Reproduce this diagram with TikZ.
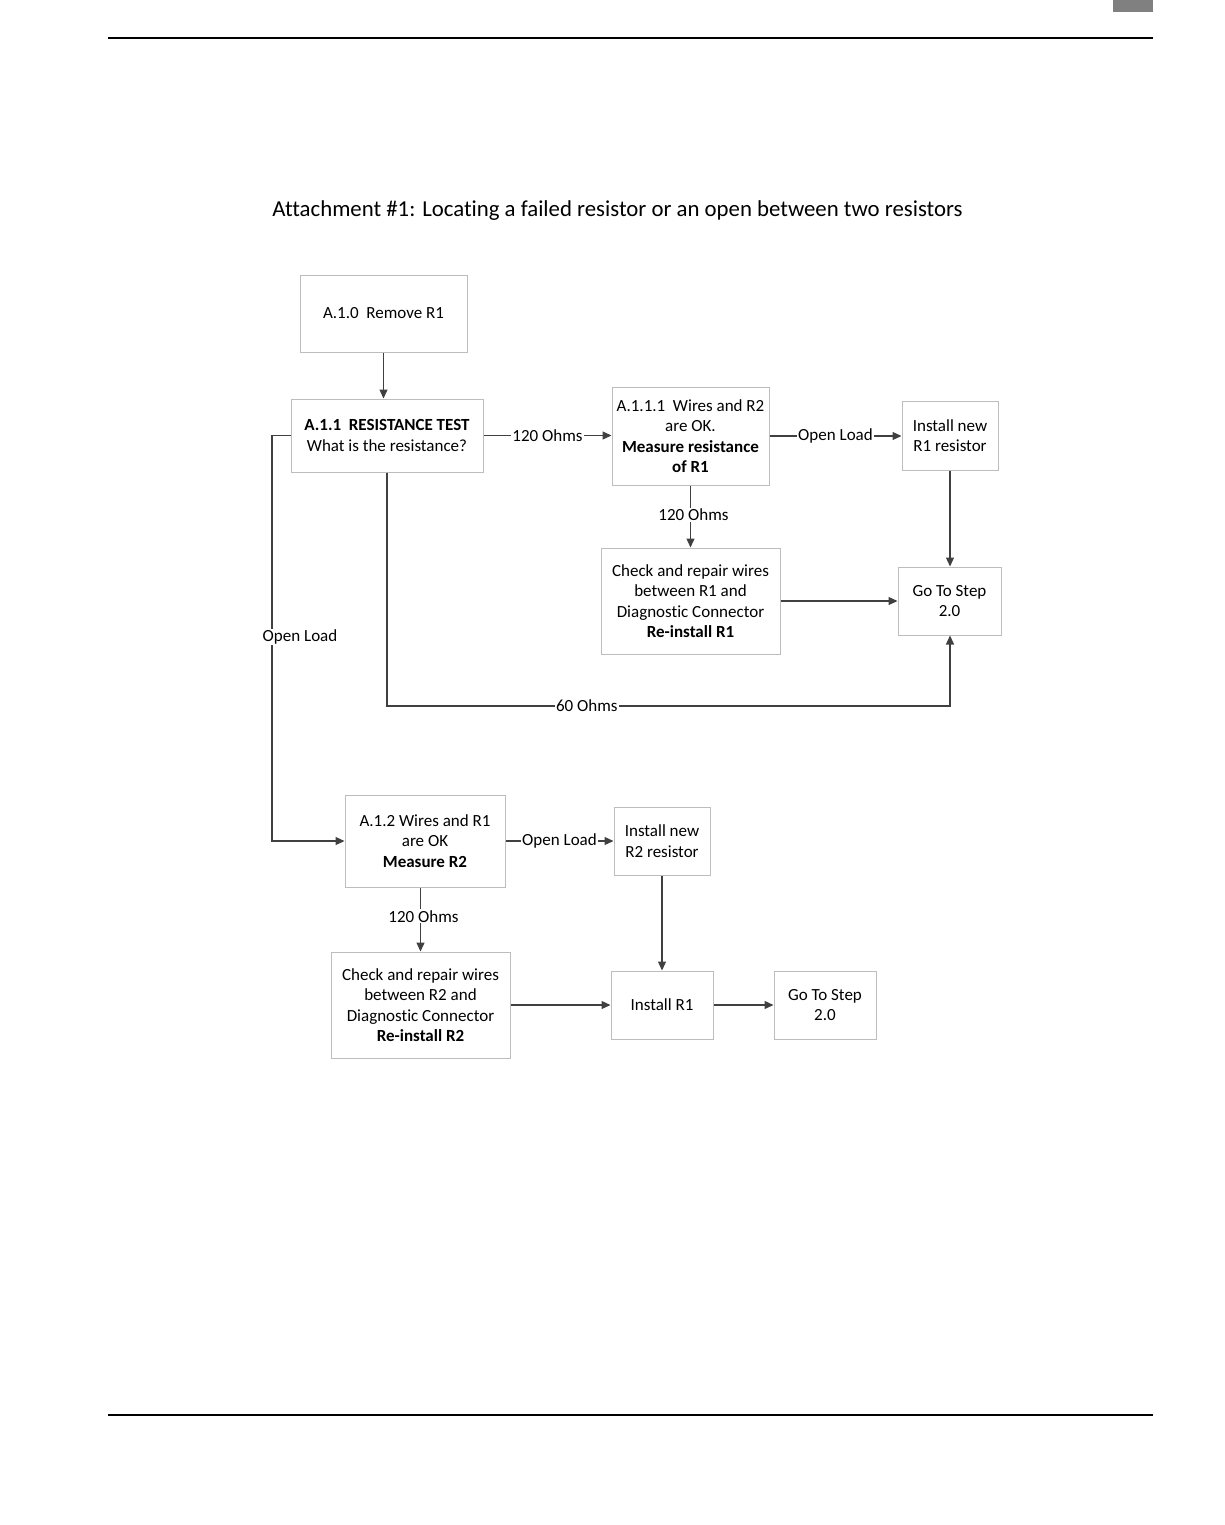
\documentclass[tikz,border=0pt]{standalone}
\usepackage{fontspec}
\setmainfont[Ligatures={NoCommon,NoRequired,NoContextual}]{Carlito}
\usetikzlibrary{arrows.meta}
\definecolor{boxline}{HTML}{BDBDBD}
\definecolor{conn}{HTML}{404040}
\definecolor{tab}{HTML}{808080}
\tikzset{
  box/.style={draw=boxline, line width=1pt, inner sep=0pt, align=center, font=\fontsize{17}{20.5}\selectfont},
  arr/.style={draw=conn, line width=1.3pt, -{Triangle[length=9pt,width=8pt]}},
  lab/.style={fill=white, inner sep=1pt, font=\fontsize{17}{19}\selectfont},
}
\begin{document}
\begin{tikzpicture}[x=1pt,y=-1pt]
\useasboundingbox (0,0) rectangle (1225,1525);
% page decorations
\fill[tab] (1113,0) rectangle (1153,12);
\draw[line width=1.4pt] (108,38) -- (1153,38);
\draw[line width=1.4pt] (108,1415) -- (1153,1415);
\node[font=\fontsize{22.8}{26}\selectfont] (title) at (617.5,211) {Attachment \#1: Locating a failed resistor or an open between two resistors};

% boxes
\node[box, minimum width=167pt, minimum height=77pt] (a10) at (383.5,313.5) {A.1.0\ \ Remove R1};
\node[box, minimum width=192pt, minimum height=73pt] (a11) at (387,435.5) {\textbf{A.1.1\ \ RESISTANCE TEST}\\What is the resistance?};
\node[box, minimum width=157pt, minimum height=98pt] (a111) at (690.5,436) {A.1.1.1\ \ Wires and R2\\are OK.\\\textbf{Measure resistance}\\\textbf{of R1}};
\node[box, minimum width=96pt, minimum height=69pt] (newr1) at (950,435.5) {Install new\\R1 resistor};
\node[box, minimum width=179pt, minimum height=106pt] (chk1) at (690.5,601) {Check and repair wires\\between R1 and\\Diagnostic Connector\\\textbf{Re-install R1}};
\node[box, minimum width=103pt, minimum height=68pt] (go1) at (949.5,601) {Go To Step\\2.0};
\node[box, minimum width=160pt, minimum height=92pt] (a12) at (425,841) {A.1.2 Wires and R1\\are OK\\\textbf{Measure R2}};
\node[box, minimum width=96pt, minimum height=68pt] (newr2) at (662,841) {Install new\\R2 resistor};
\node[box, minimum width=179pt, minimum height=106pt] (chk2) at (420.5,1005) {Check and repair wires\\between R2 and\\Diagnostic Connector\\\textbf{Re-install R2}};
\node[box, minimum width=102pt, minimum height=68pt] (ir1) at (662,1005) {Install R1};
\node[box, minimum width=102pt, minimum height=68pt] (go2) at (825,1005) {Go To Step\\2.0};

% connectors
\draw[arr] (a10.south) -- (a11.north -| a10.south);
\draw[arr] (a11.east) -- node[lab]{120 Ohms} (a111.west |- a11.east);
\draw[arr] (a111.east) -- node[lab]{Open Load} (newr1.west |- a111.east);
\draw[arr] (newr1.south) -- (go1.north -| newr1.south);
\draw[arr] (a111.south) -- node[lab, pos=0.47, xshift=3pt]{120 Ohms} (chk1.north);
\draw[arr] (chk1.east) -- (go1.west);
\coordinate (c60a) at (387,706);
\coordinate (c60b) at (950,706);
\draw[arr] (a11.south) -- (c60a) -- node[lab, pos=0.355]{60 Ohms} (c60b) -- (go1.south -| c60b);
\coordinate (olA) at (272,435.5);
\coordinate (olB) at (272,841);
\draw[arr] (a11.west) -- (olA) -- (olB) -- (a12.west);
\node[lab] (ol1) at (300,637) {Open Load};
\draw[arr] (a12.east) -- node[lab, pos=0.5]{Open Load} (newr2.west);
\draw[arr] (a12.south -| chk2.north) -- node[lab, pos=0.45, xshift=3pt]{120 Ohms} (chk2.north);
\draw[arr] (newr2.south) -- (ir1.north);
\draw[arr] (chk2.east) -- (ir1.west);
\draw[arr] (ir1.east) -- (go2.west);
\end{tikzpicture}
\end{document}
